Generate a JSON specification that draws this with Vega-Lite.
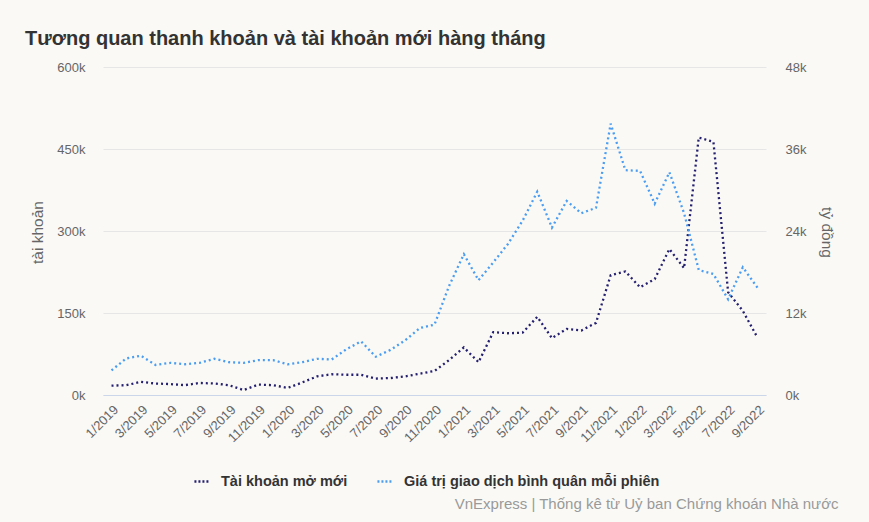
{
  "$schema": "https://vega.github.io/schema/vega-lite/v6.json",
  "width": 663,
  "height": 328,
  "autosize": {"type": "none"},
  "padding": {"left": 103, "top": 67, "right": 103, "bottom": 127},
  "background": "#faf9f6",
  "title": {
    "text": "Tương quan thanh khoản và tài khoản mới hàng tháng",
    "anchor": "start",
    "frame": "group",
    "dx": -78,
    "offset": 12,
    "fontSize": 20,
    "fontWeight": "bold",
    "color": "#333333",
    "font": "Liberation Sans"
  },
  "config": {
    "font": "Liberation Sans",
    "view": {"stroke": null}
  },
  "data": {
    "values": [
      {"thang": "1/2019", "tk": 17000, "gd": 3600},
      {"thang": "2/2019", "tk": 18000, "gd": 5350},
      {"thang": "3/2019", "tk": 24000, "gd": 5750},
      {"thang": "4/2019", "tk": 21000, "gd": 4400},
      {"thang": "5/2019", "tk": 20000, "gd": 4700},
      {"thang": "6/2019", "tk": 18000, "gd": 4500},
      {"thang": "7/2019", "tk": 22000, "gd": 4700},
      {"thang": "8/2019", "tk": 21000, "gd": 5300},
      {"thang": "9/2019", "tk": 18000, "gd": 4800},
      {"thang": "10/2019", "tk": 9000, "gd": 4700},
      {"thang": "11/2019", "tk": 19000, "gd": 5100},
      {"thang": "12/2019", "tk": 18000, "gd": 5100},
      {"thang": "1/2020", "tk": 13000, "gd": 4500},
      {"thang": "2/2020", "tk": 23000, "gd": 4800},
      {"thang": "3/2020", "tk": 34000, "gd": 5300},
      {"thang": "4/2020", "tk": 38000, "gd": 5200},
      {"thang": "5/2020", "tk": 37000, "gd": 6700},
      {"thang": "6/2020", "tk": 37000, "gd": 7850},
      {"thang": "7/2020", "tk": 30000, "gd": 5600},
      {"thang": "8/2020", "tk": 31000, "gd": 6600},
      {"thang": "9/2020", "tk": 34000, "gd": 8000},
      {"thang": "10/2020", "tk": 39000, "gd": 9800},
      {"thang": "11/2020", "tk": 44000, "gd": 10300},
      {"thang": "12/2020", "tk": 64000, "gd": 16000},
      {"thang": "1/2021", "tk": 87000, "gd": 20600},
      {"thang": "2/2021", "tk": 60000, "gd": 16800},
      {"thang": "3/2021", "tk": 115000, "gd": 19400},
      {"thang": "4/2021", "tk": 113000, "gd": 22100},
      {"thang": "5/2021", "tk": 114000, "gd": 25500},
      {"thang": "6/2021", "tk": 143000, "gd": 29750},
      {"thang": "7/2021", "tk": 104000, "gd": 24500},
      {"thang": "8/2021", "tk": 121000, "gd": 28400},
      {"thang": "9/2021", "tk": 118000, "gd": 26600},
      {"thang": "10/2021", "tk": 132000, "gd": 27400},
      {"thang": "11/2021", "tk": 219000, "gd": 39700},
      {"thang": "12/2021", "tk": 226000, "gd": 32900},
      {"thang": "1/2022", "tk": 197000, "gd": 32800},
      {"thang": "2/2022", "tk": 212000, "gd": 28000},
      {"thang": "3/2022", "tk": 267000, "gd": 32600},
      {"thang": "4/2022", "tk": 232000, "gd": 26600},
      {"thang": "5/2022", "tk": 471000, "gd": 18300},
      {"thang": "6/2022", "tk": 463000, "gd": 17700},
      {"thang": "7/2022", "tk": 188000, "gd": 14000},
      {"thang": "8/2022", "tk": 154000, "gd": 18700},
      {"thang": "9/2022", "tk": 105000, "gd": 15700}
    ]
  },
  "encoding": {
    "x": {
      "field": "thang",
      "type": "ordinal",
      "sort": null,
      "scale": {"type": "point", "padding": 0.58},
      "axis": {
        "values": ["1/2019","3/2019","5/2019","7/2019","9/2019","11/2019","1/2020","3/2020","5/2020","7/2020","9/2020","11/2020","1/2021","3/2021","5/2021","7/2021","9/2021","11/2021","1/2022","3/2022","5/2022","7/2022","9/2022"],
        "labelAngle": -45,
        "labelFontSize": 13,
        "labelColor": "#666666",
        "labelPadding": 8,
        "ticks": false,
        "grid": false,
        "domain": true,
        "domainColor": "#ccd6eb",
        "domainWidth": 1,
        "zindex": 1,
        "title": "VnExpress | Thống kê từ Uỷ ban Chứng khoán Nhà nước",
        "titleX": 735,
        "titleY": 113,
        "titleAlign": "right",
        "titleBaseline": "alphabetic",
        "titleFontWeight": "normal",
        "titleFontSize": 15,
        "titleColor": "#999999",
        "titleLimit": 600
      }
    },
    "color": {
      "scale": {
        "domain": ["Tài khoản mở mới", "Giá trị giao dịch bình quân mỗi phiên"],
        "range": ["#241f6e", "#4a9df2"]
      },
      "legend": {
        "title": null,
        "orient": "none",
        "legendX": 90,
        "legendY": 406,
        "direction": "horizontal",
        "labelFontSize": 14.5,
        "labelFontWeight": "bold",
        "labelColor": "#333333",
        "labelLimit": 400,
        "symbolType": "stroke",
        "symbolStrokeWidth": 2.5,
        "symbolDash": [2, 2],
        "symbolSize": 200,
        "columnPadding": 24,
        "labelOffset": 11
      }
    }
  },
  "layer": [
    {
      "mark": {"type": "line", "strokeDash": [2, 3], "strokeWidth": 2.3},
      "encoding": {
        "y": {
          "field": "tk",
          "type": "quantitative",
          "scale": {"domain": [0, 600000]},
          "axis": {
            "orient": "left",
            "values": [0, 150000, 300000, 450000, 600000],
            "format": "~s",
            "title": "tài khoản",
            "titleX": -66,
            "titleY": 165,
            "titleAngle": -90,
            "titleAlign": "center",
            "titleBaseline": "middle",
            "titleFontWeight": "normal",
            "titleFontSize": 15.5,
            "titleColor": "#666666",
            "labelFontSize": 13,
            "labelColor": "#666666",
            "labelPadding": 18,
            "ticks": false,
            "domain": false,
            "grid": true,
            "gridColor": "#e6e6e6",
            "gridWidth": 1
          }
        },
        "color": {"datum": "Tài khoản mở mới"}
      }
    },
    {
      "mark": {"type": "line", "strokeDash": [2, 3], "strokeWidth": 2.3},
      "encoding": {
        "y": {
          "field": "gd",
          "type": "quantitative",
          "scale": {"domain": [0, 48000]},
          "axis": {
            "orient": "right",
            "values": [0, 12000, 24000, 36000, 48000],
            "format": "~s",
            "title": "tỷ đồng",
            "titleX": 60,
            "titleY": 165,
            "titleAngle": 90,
            "titleAlign": "center",
            "titleBaseline": "middle",
            "titleFontWeight": "normal",
            "titleFontSize": 15.5,
            "titleColor": "#666666",
            "labelFontSize": 13,
            "labelColor": "#666666",
            "labelPadding": 19,
            "ticks": false,
            "domain": false,
            "grid": false
          }
        },
        "color": {"datum": "Giá trị giao dịch bình quân mỗi phiên"}
      }
    }
  ],
  "resolve": {"scale": {"y": "independent"}}
}
